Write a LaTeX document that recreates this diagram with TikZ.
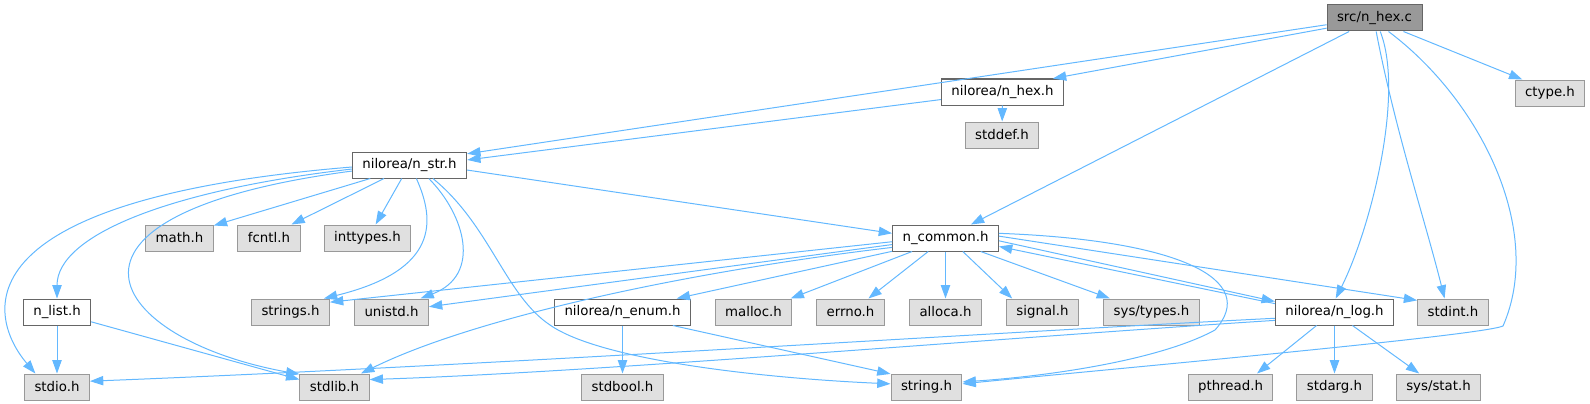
\documentclass[tikz,border=0pt]{standalone}
\usepackage{fontspec}
\setmainfont{DejaVu Sans}
\usetikzlibrary{shapes,positioning,arrows.meta,calc}
\usepackage{xcolor}
\definecolor{edgeblue}{HTML}{63B8FF}
\definecolor{boxgrey}{HTML}{666666}
\definecolor{sysgrey}{HTML}{999999}
\definecolor{sysfill}{HTML}{E0E0E0}
\definecolor{srcfill}{HTML}{999999}

\begin{document}
\begin{tikzpicture}[x=0.75pt,y=-0.75pt,font=\fontsize{10pt}{12pt}\selectfont]

	\tikzstyle{hdrrect}=[draw=boxgrey, fill=white, rectangle, inner xsep=7.5pt, inner ysep=0pt, minimum height=19.5pt, line width=0.75pt];
	\tikzstyle{sysrect}=[hdrrect, draw=sysgrey, fill=sysfill];
	\tikzstyle{srcrect}=[hdrrect, fill=srcfill];
	\tikzstyle{inc}=[->, draw=edgeblue, line width=0.75pt];

	\useasboundingbox (0,0) rectangle (1590,403);
    \begin{scope}[>={Triangle[length=10pt,width=7pt]}]

    	% top rows
    	\node (src) at (1374.5,18) [srcrect]{src/n\_hex.c};
    	\node (n_hex) at (1002.5,92) [hdrrect]{nilorea/n\_hex.h};
    	\node (ctype) at (1550,93) [sysrect]{ctype.h};
    	\node (stddef) at (1002,135) [sysrect]{stddef.h};
    	\node (n_str) at (409.5,165) [hdrrect]{nilorea/n\_str.h};

    	\node (math) at (179.5,238) [sysrect]{math.h};
    	\node (fcntl) at (269,238) [sysrect]{fcntl.h};
    	\node (inttypes) at (367.5,238) [sysrect]{inttypes.h};
    	\node (n_common) at (945.5,238) [hdrrect]{n\_common.h};

    	% middle row
    	\node (n_list) at (57,312) [hdrrect]{n\_list.h};
    	\node (strings) at (290.5,312) [sysrect]{strings.h};
    	\node (unistd) at (391.5,312) [sysrect]{unistd.h};
    	\node (n_enum) at (622.5,312) [hdrrect]{nilorea/n\_enum.h};
    	\node (malloc) at (753.5,312) [sysrect]{malloc.h};
    	\node (errno) at (850.5,312) [sysrect]{errno.h};
    	\node (alloca) at (945.5,312) [sysrect]{alloca.h};
    	\node (signal) at (1042.5,312) [sysrect]{signal.h};
    	\node (sys_types) at (1151.5,312) [sysrect]{sys/types.h};
    	\node (n_log) at (1334.5,312) [hdrrect]{nilorea/n\_log.h};
    	\node (stdint) at (1453,312) [sysrect]{stdint.h};

    	% bottom row
    	\node (stdio) at (57,387) [sysrect]{stdio.h};
    	\node (stdlib) at (334.5,387) [sysrect]{stdlib.h};
    	\node (stdbool) at (622.5,387) [sysrect]{stdbool.h};
    	\node (string) at (926.5,387) [sysrect]{string.h};
    	\node (pthread) at (1230.5,387) [sysrect]{pthread.h};
    	\node (stdarg) at (1334.5,387) [sysrect]{stdarg.h};
    	\node (sys_stat) at (1438.5,387) [sysrect]{sys/stat.h};

    	% src/n_hex.c
    	\draw[inc] (src.188) -- (n_str.11);
    	\draw[inc] (src.192) -- (n_hex.15);
    	\draw[inc] (src.208) -- (n_common.28);
    	\draw[inc] (src.293) .. controls (1405,95) and (1370,230) .. (n_log.85);
    	\draw[inc] (src.277) .. controls (1395,130) and (1425,220) .. (stdint.122);
    	\draw[inc] (src.316) .. controls (1480,100) and (1545,230) .. (1503,326) .. controls (1480,336) and (1100,370) .. (string.5);
    	\draw[inc] (src.335) -- (ctype.154);

    	% nilorea/n_hex.h
    	\draw[inc] (n_hex.187) -- (n_str.5);
    	\draw[inc] (n_hex) -- (stddef);

    	% nilorea/n_str.h
    	\draw[inc] (n_str.-5) -- (n_common.175);
    	\draw[inc] (n_str.199) -- (math.20);
    	\draw[inc] (n_str.208) -- (fcntl.31);
    	\draw[inc] (n_str.240) -- (inttypes.59);
    	\draw[inc] (n_str.297) .. controls (435,220) and (440,270) .. (strings.22);
    	\draw[inc] (n_str.325) .. controls (465,215) and (482,275) .. (unistd.25);
    	\draw[inc] (n_str.330) .. controls (490,225) and (505,295) .. (550,325) .. controls (600,360) and (760,378) .. (string.175);
    	\draw[inc] (n_str.184) .. controls (170,190) and (57,235) .. (n_list);
    	\draw[inc] (n_str.182) .. controls (-50,200) and (-10,320) .. (stdio.148);
    	\draw[inc] (n_str.186) .. controls (20,215) and (110,340) .. (stdlib.160);

    	% n_list.h
    	\draw[inc] (n_list) -- (stdio);
    	\draw[inc] (n_list.-16) -- (stdlib.168);

    	% n_common.h
    	\draw[inc] (n_common.184) -- (strings.14);
    	\draw[inc] (n_common.187) -- (unistd.8);
    	\draw[inc] (n_common.190) .. controls (700,270) and (480,315) .. (stdlib.27);
    	\draw[inc] (n_common.194) -- (n_enum.14);
    	\draw[inc] (n_common.202) -- (malloc.20);
    	\draw[inc] (n_common.218) -- (errno.37);
    	\draw[inc] (n_common) -- (alloca);
    	\draw[inc] (n_common.322) -- (signal.156);
    	\draw[inc] (n_common.339) -- (sys_types.162);
    	\draw[inc] (n_common.-3) -- (n_log.170);
    	\draw[inc] (n_common.2) -- (stdint.162);
    	\draw[inc] (n_common.5) .. controls (1180,240) and (1260,280) .. (1215,330) .. controls (1160,360) and (1050,376) .. (string.8);

    	% nilorea/n_log.h
    	\draw[inc] (n_log.172) -- (n_common.-9);
    	\draw[inc] (n_log.186) .. controls (1000,332) and (500,365) .. (stdio.10);
    	\draw[inc] (n_log.188) .. controls (1000,338) and (600,372) .. (stdlib.12);
    	\draw[inc] (n_log.217) -- (pthread.27);
    	\draw[inc] (n_log) -- (stdarg);
    	\draw[inc] (n_log.323) -- (sys_stat.145);

    	% nilorea/n_enum.h
    	\draw[inc] (n_enum) -- (stdbool);
    	\draw[inc] (n_enum.-15) -- (string.160);

    \end{scope}
    \end{tikzpicture}
\end{document}
